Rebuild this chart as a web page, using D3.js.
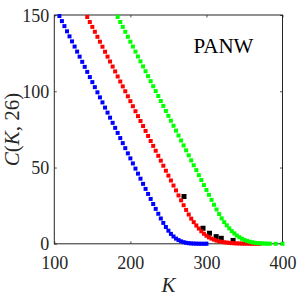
<!DOCTYPE html>
<html><head><meta charset="utf-8">
<script src="https://cdn.jsdelivr.net/npm/d3@7"></script>
<style>html,body{margin:0;padding:0;background:#fff}svg{display:block}
svg text{font-family:"Liberation Serif","Times New Roman",serif}</style>
</head><body>
<svg id="c" width="300" height="300"></svg>
<script>
// ---- data ----
const xTicks = [100, 200, 300, 400];
const yTicks = [0, 50, 100, 150];
const label = "PANW";

const kBlue = [106.7,110,113.3,116.7,120,123.3,126.7,130,133.3,136.7,140,143.3,146.7,150,153.3,156.7,160,163.3,166.7,170,173.3,176.7,180,183.3,186.7,190,193.3,196.7,200,203.3,206.7,210,213.3,216.7,220,223.3,226.7,230,233.3,236.7,240,243.3,246.7,250,253.3,256.7,260,263.3,266.7,270,273.3,276.7,280,283.3,286.7,290,293.3,296.7,300];
const cBlue = [149.3,146,142.7,139.3,136,132.7,129.3,126,122.7,119.3,116,112.7,109.3,106,102.7,99.3,96,92.7,89.3,86,82.7,79.3,76,72.7,69.3,66,62.7,59.3,56,52.7,49.3,46,42.7,39.3,36,32.7,29.4,26.1,22.9,19.7,16.6,13.7,11.0,8.6,6.5,4.8,3.4,2.4,1.6,1.05,0.65,0.4,0.25,0.15,0.08,0.05,0.03,0.02,0.01];

const kRed = [143.3,146.7,150,153.3,156.7,160,163.3,166.7,170,173.3,176.7,180,183.3,186.7,190,193.3,196.7,200,203.3,206.7,210,213.3,216.7,220,223.3,226.7,230,233.3,236.7,240,243.3,246.7,250,253.3,256.7,260,263.3,266.7,270,273.3,276.7,280,283.3,286.7,290,293.3,296.7,300,303.3,306.7,310,313.3,316.7,320,323.3,326.7,330,333.3,336.7,340,343.3,346.7,350,353.3,356.7,360,363.3,366.7,370];
const cRed = [148.7,145.4,142.2,139.0,135.7,132.5,129.2,125.9,122.7,119.5,116.2,113.0,109.7,106.4,103.2,100.0,96.7,93.5,90.2,86.9,83.7,80.5,77.2,74.0,70.7,67.4,64.2,61.0,57.7,54.5,51.2,47.9,44.7,41.5,38.2,35.0,31.7,28.5,25.3,22.2,19.2,16.5,14.2,12.0,10.0,8.2,6.6,5.3,4.2,3.4,2.7,2.1,1.6,1.25,1.0,0.8,0.6,0.45,0.35,0.27,0.2,0.15,0.12,0.09,0.07,0.05,0.04,0.03,0.02];

const kGreen = [183.3,186.7,190,193.3,196.7,200,203.3,206.7,210,213.3,216.7,220,223.3,226.7,230,233.3,236.7,240,243.3,246.7,250,253.3,256.7,260,263.3,266.7,270,273.3,276.7,280,283.3,286.7,290,293.3,296.7,300,303.3,306.7,310,313.3,316.7,320,323.3,326.7,330,333.3,336.7,340,343.3,346.7,350,353.3,356.7,360,363.3,366.7,370,373.3,376.7,380,383.3,391,400];
const cGreen = [148.7,145.4,142.2,139.0,135.7,132.5,129.3,126.0,122.8,119.6,116.3,113.1,109.9,106.6,103.3,100.1,96.9,93.6,90.4,87.1,83.9,80.7,77.4,74.2,71.0,67.7,64.5,61.3,58.0,54.7,51.5,48.3,45.0,41.8,38.5,35.3,32.1,28.8,25.6,22.5,19.5,16.7,14.2,12.1,10.1,8.3,6.8,5.4,4.3,3.3,2.5,1.9,1.4,1.0,0.7,0.5,0.35,0.25,0.15,0.1,0.06,0.02,0.01];

const kMarket = [270.5, 295.5, 304, 312.8, 319.5, 335];
const cMarket = [31, 10.2, 6.9, 4.7, 3.6, 2.2];

// ---- layout ----
const L = 54.3, R = 282.5, T = 15, B = 243.8;
const axisColor = "#262626";
const svg = d3.select("#c");
const x = d3.scaleLinear().domain([100, 400]).range([L, R]);
const y = d3.scaleLinear().domain([0, 150]).range([B, T]);

function drawPts(ks, cs, color, size) {
  const data = ks.map((k, i) => [k, cs[i]]);
  svg.append("g").selectAll("rect").data(data).join("rect")
    .attr("x", d => x(d[0]) - size / 2)
    .attr("y", d => y(d[1]) - size / 2)
    .attr("width", size).attr("height", size)
    .attr("fill", color);
}

// axes
const tk = 2.5;
const gx = svg.append("g").attr("transform", `translate(0,${B})`)
  .call(d3.axisBottom(x).tickValues(xTicks).tickSize(-tk).tickPadding(12).tickFormat(d3.format("d")));
const gxt = svg.append("g").attr("transform", `translate(0,${T})`)
  .call(d3.axisTop(x).tickValues(xTicks).tickSize(-tk).tickFormat(""));
const gy = svg.append("g").attr("transform", `translate(${L},0)`)
  .call(d3.axisLeft(y).tickValues(yTicks).tickSize(-tk).tickPadding(5).tickFormat(d3.format("d")));
const gyr = svg.append("g").attr("transform", `translate(${R},0)`)
  .call(d3.axisRight(y).tickValues(yTicks).tickSize(-tk).tickFormat(""));
[gx, gxt, gy, gyr].forEach(g => {
  g.attr("font-family", null).attr("font-size", null);
  g.select(".domain").remove();
  g.selectAll("line").attr("stroke", axisColor).attr("stroke-width", 0.8);
  g.selectAll("text").attr("fill", axisColor).style("font-size", "18px");
});
gx.selectAll("text").attr("dy", "0.71em");
gy.selectAll("text").attr("dy", "0.34em");

svg.append("rect").attr("x", L).attr("y", T).attr("width", R - L).attr("height", B - T)
  .attr("fill", "none").attr("stroke", axisColor).attr("stroke-width", 1);

// series
drawPts(kMarket, cMarket, "#000000", 5);
drawPts(kBlue, cBlue, "#0000ff", 4);
drawPts(kRed, cRed, "#ff0000", 4);
drawPts(kGreen, cGreen, "#00ff00", 4);

// labels
svg.append("text").attr("x", 193.5).attr("y", 52.7)
  .style("font-size", "21px").attr("fill", "#000").text(label);

const xl = svg.append("text").attr("x", (L + R) / 2).attr("y", 291.5).attr("text-anchor", "middle")
  .style("font-size", "21px").attr("fill", axisColor);
xl.append("tspan").attr("font-style", "italic").text("K");

const yl = svg.append("text").attr("transform", `translate(19,${(T + B) / 2}) rotate(-90)`)
  .attr("text-anchor", "middle").style("font-size", "21px").attr("fill", axisColor);
yl.append("tspan").attr("font-style", "italic").text("C");
yl.append("tspan").text("(");
yl.append("tspan").attr("font-style", "italic").text("K");
yl.append("tspan").text(", 26)");
</script>
</body></html>
